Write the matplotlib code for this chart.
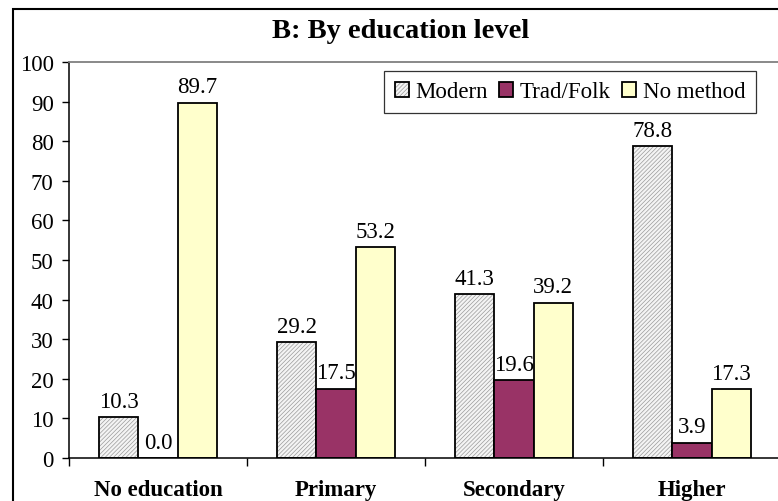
import matplotlib
matplotlib.use("Agg")
import matplotlib.pyplot as plt
from matplotlib.patches import Patch, Rectangle
import numpy as np

categories = ["No education", "Primary", "Secondary", "Higher"]
series_names = ["Modern", "Trad/Folk", "No method"]
modern = [10.3, 29.2, 41.3, 78.8]
trad_folk = [0.0, 17.5, 19.6, 3.9]
no_method = [89.7, 53.2, 39.2, 17.3]
yticks = list(range(0, 101, 10))

plt.rcParams['font.family'] = ['Liberation Serif', 'DejaVu Serif']
plt.rcParams['hatch.linewidth'] = 0.5

W, H = 778, 502
fig = plt.figure(figsize=(W / 100, H / 100), dpi=100)
ax = fig.add_axes([69 / W, 43 / H, 712 / W, 396 / H])

x = np.arange(len(categories))
bw = 0.22
fs = 16.5

# Modern: hatched grey, drawn in two layers so hatch stays grey and edge black
ax.bar(x - bw, modern, bw, color='#f4f4f4', edgecolor='#9a9a9a', hatch='////////', linewidth=0)
ax.bar(x - bw, modern, bw, fill=False, edgecolor='black', linewidth=1.3)
ax.bar(x, trad_folk, bw, color='#993366', edgecolor='black', linewidth=1.3)
ax.bar(x + bw, no_method, bw, color='#ffffcc', edgecolor='black', linewidth=1.3)

for off, vals in [(-bw, modern), (0, trad_folk), (bw, no_method)]:
    for xi, v in zip(x, vals):
        ax.annotate(f"{v:.1f}", (xi + off, v), xytext=(0, 7.5), textcoords='offset points',
                    ha='center', va='baseline', fontsize=fs)

ax.set_xlim(-0.5, len(categories) - 0.5)
ax.set_ylim(0, 100)
ax.set_yticks(yticks)
ax.tick_params(axis='y', direction='out', length=5, width=1, labelsize=fs, pad=6)
ax.set_xticks(x)
ax.set_xticklabels(categories, fontsize=16.5, fontweight='bold')
ax.tick_params(axis='x', which='major', length=0, pad=15)
ax.set_xticks(np.arange(len(categories) + 1) - 0.5, minor=True)
ax.tick_params(axis='x', which='minor', direction='out', length=6, width=1)

ax.spines['left'].set_color('black')
ax.spines['bottom'].set_color('black')
ax.spines['left'].set_linewidth(1.1)
ax.spines['bottom'].set_linewidth(1.1)
ax.spines['top'].set_color('#808080')
ax.spines['right'].set_color('#808080')
ax.spines['top'].set_linewidth(1.3)

h_modern = (Patch(facecolor='#f4f4f4', edgecolor='#9a9a9a', hatch='////////', linewidth=0),
            Patch(fill=False, edgecolor='black', linewidth=1.3))
h_trad = Patch(facecolor='#993366', edgecolor='black', linewidth=1.3)
h_none = Patch(facecolor='#ffffcc', edgecolor='black', linewidth=1.3)
leg = fig.legend([h_modern, h_trad, h_none], series_names, ncol=3, loc='upper right',
                 bbox_to_anchor=(756 / W, 1 - 72 / H), fontsize=fs, frameon=True,
                 fancybox=False, edgecolor='black', handlelength=0.6, handleheight=0.6,
                 handletextpad=0.3, columnspacing=0.5, borderpad=0.45, borderaxespad=0)
leg.get_frame().set_linewidth(0.9)

fig.text(401 / W, 1 - 32 / H, "B: By education level", ha='center', va='center',
         fontsize=20.5, fontweight='bold')

# outer chart border (cropped at right and bottom)
fig.patches.append(Rectangle((13 / W, -0.1), 2, 1.1 - 10 / H, transform=fig.transFigure,
                             fill=False, edgecolor='black', linewidth=1.5))

fig.savefig("out.png", dpi=100)
